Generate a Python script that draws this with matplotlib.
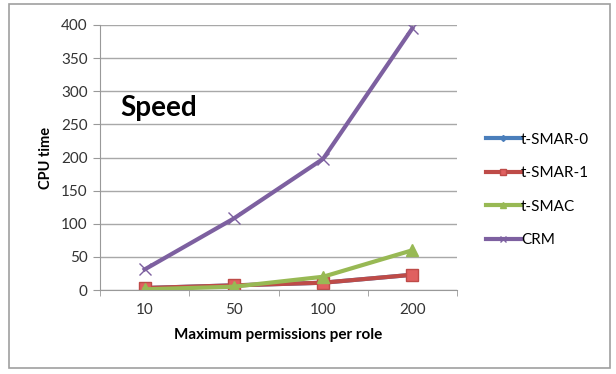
import numpy as np
import matplotlib.pyplot as plt
from matplotlib.patches import Rectangle

plt.rcParams['font.family'] = ['Lato', 'DejaVu Sans']

categories = ['10', '50', '100', '200']
smar0 = [3, 7, 11, 23]
smar1 = [3, 7, 11, 23]
smac = [1, 5, 20, 60]
crm = [31, 108, 198, 395]

fig = plt.figure(figsize=(6.16, 3.74), dpi=100)

# outer frame like the excel chart area
fig.patches.append(Rectangle((9/616, 6/374), 601/616, 364/374, transform=fig.transFigure,
                             fill=False, edgecolor='#a0a0a0', linewidth=1.2))

ax = fig.add_axes([100/616, 84/374, 357/616, 265/374])
x = np.arange(len(categories))

ax.plot(x, smar0, color='#4a7ebb', lw=3, marker='D', ms=6, label='t-SMAR-0')
ax.plot(x, smar1, color='#be4b48', lw=3, marker='s', ms=9, mec='#be4b48', mfc='#e06060', label='t-SMAR-1')
ax.plot(x, smac, color='#98b954', lw=3, marker='^', ms=9, label='t-SMAC')
ax.plot(x, crm, color='#7d60a0', lw=3, marker='x', ms=9, mew=1, label='CRM')

ax.set_xlim(-0.5, 3.5)
ax.set_ylim(0, 400)
ax.set_yticks(range(0, 401, 50))
ax.set_xticks(x)
ax.set_xticklabels(categories)
ax.set_xticks(np.arange(-0.5, 4, 1), minor=True)
ax.tick_params(axis='x', which='major', length=0, pad=9, labelsize=11, colors='#333333')
ax.tick_params(axis='x', which='minor', length=4, color='#999999', direction='out')
ax.tick_params(axis='y', length=5, color='#999999', labelcolor='#333333', pad=4, labelsize=11)
ax.grid(axis='y', color='#a8a8a8', lw=1)
ax.set_axisbelow(True)
for s in ['top', 'right']:
    ax.spines[s].set_visible(False)
for s in ['left', 'bottom']:
    ax.spines[s].set_color('#999999')

ax.set_xlabel('Maximum permissions per role', fontsize=11, fontweight='bold', labelpad=8)
ax.set_ylabel('CPU time', fontsize=10.5, fontweight='bold', labelpad=6)
ax.text(20/357, (290 - 108) / 265, 'Speed', transform=ax.transAxes,
        fontsize=20, fontweight='bold', va='center', ha='left')

leg = fig.legend(loc='upper left', bbox_to_anchor=(472/616, 1 - 119/374), frameon=False,
                 fontsize=11, handlelength=2.3, handletextpad=0.0, labelspacing=1.27,
                 markerscale=0.5)

fig.savefig('out.png', dpi=100)
